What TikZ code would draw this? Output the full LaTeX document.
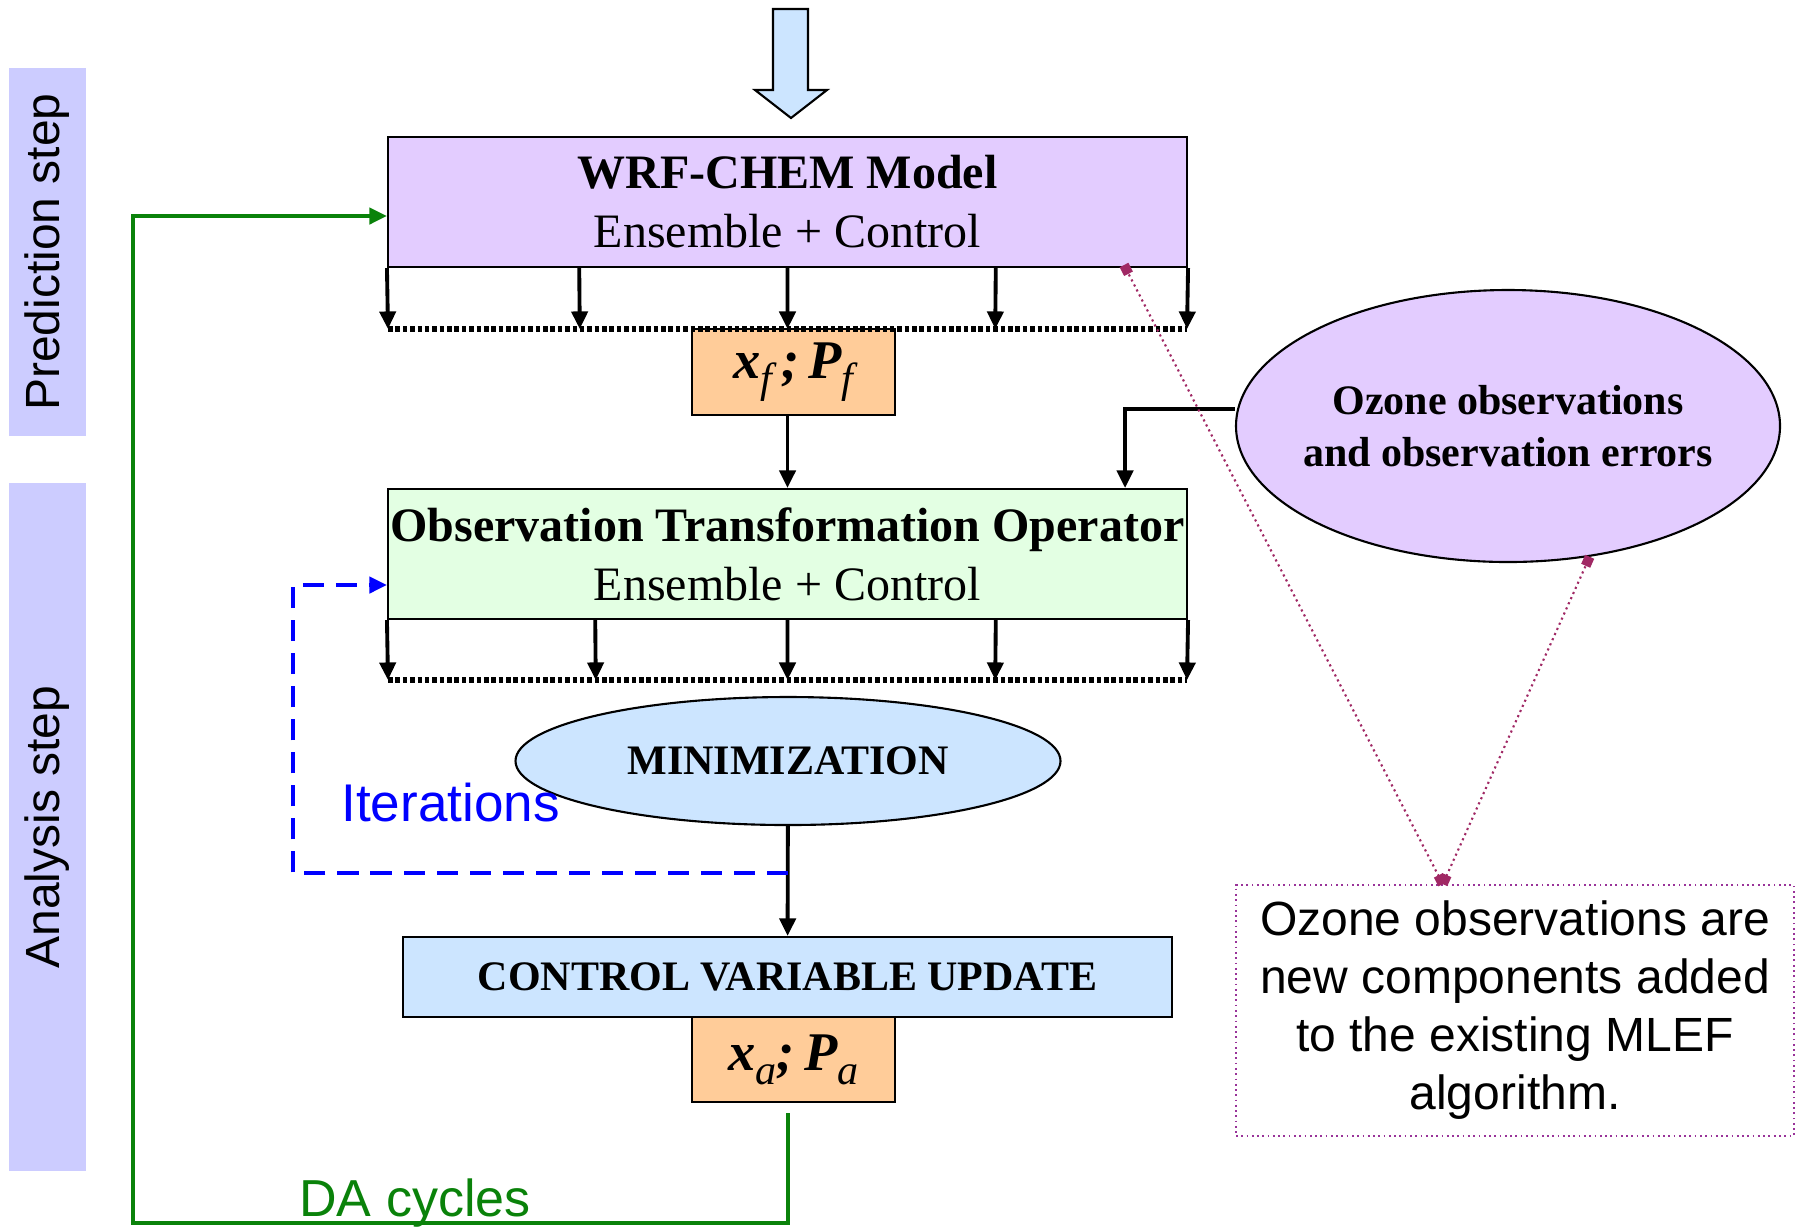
\documentclass[tikz,border=0pt]{standalone}
\usepackage{fontspec}
\setmainfont{Liberation Serif}
\setsansfont{Liberation Sans}
\usepackage{tikz}
\usetikzlibrary{arrows.meta, calc, shapes.geometric}

\definecolor{lavender}{RGB}{227,204,255}
\definecolor{mint}{RGB}{227,255,227}
\definecolor{skyblue}{RGB}{204,229,255}
\definecolor{peach}{RGB}{255,204,153}
\definecolor{bandblue}{RGB}{204,204,255}
\definecolor{cyclegreen}{RGB}{10,130,10}
\definecolor{pinline}{RGB}{160,40,100}
\definecolor{notepurple}{RGB}{153,51,153}
\newcommand{\lowsub}[1]{\raisebox{-0.55ex}{\fontsize{12}{12}\selectfont\mdseries\itshape #1}}

\begin{document}
\begin{tikzpicture}[thick, >={Triangle[length=5pt, width=4.6pt]},
        box/.style={draw, line width=0.6pt, inner sep=0pt, align=center},
        big/.style={font=\fontsize{13.66}{16.8}\selectfont},
        mid/.style={font=\fontsize{11.95}{14.8}\selectfont\bfseries},
        band/.style={fill=bandblue, inner sep=0pt, rotate=90, font=\sffamily\fontsize{13.66}{16}\selectfont},
        tick/.style={->, line width=1.1pt},
        dotline/.style={line width=1.5pt, dash pattern=on 1.3pt off 0.8pt},
        iterline/.style={->, blue, line width=1.1pt, dash pattern=on 6pt off 3.4pt},
        daline/.style={->, cyclegreen, line width=1.1pt},
        callout/.style={color=pinline, densely dotted, line width=0.6pt, {Square[length=2.8pt, width=2.8pt]}-{Square[length=2.8pt, width=2.8pt]}}]
        \useasboundingbox (0,0) rectangle (17.96,-12.26);

        % Side bands
        \node[band, minimum width=3.68cm, minimum height=0.77cm] (pred) at (0.475,-2.52) {Prediction step};
        \node[band, minimum width=6.88cm, minimum height=0.77cm] (anal) at (0.475,-8.27) {Analysis step};

        % Input arrow
        \draw[line width=0.6pt, fill=skyblue] (7.73,-0.09) -- (8.08,-0.09) -- (8.08,-0.90) -- (8.27,-0.90)
            -- (7.91,-1.18) -- (7.55,-0.90) -- (7.73,-0.90) -- cycle;

        % Nodes
        \node[box, big, fill=lavender, minimum width=7.99cm, minimum height=1.30cm] (wrf) at (7.875,-2.02)
            {\textbf{WRF-CHEM Model}\\Ensemble + Control};
        \node[box, fill=peach, minimum width=2.03cm, minimum height=0.86cm, font=\fontsize{15.5}{18}\selectfont\bfseries\itshape] (xf) at (7.935,-3.72)
            {x\lowsub{f}\,;\,P\lowsub{f}};
        \node[box, big, fill=mint, minimum width=7.99cm, minimum height=1.30cm] (oto) at (7.875,-5.54)
            {\textbf{Observation Transformation Operator}\\Ensemble + Control};
        \node[ellipse, draw, line width=0.6pt, fill=lavender, minimum width=5.44cm, minimum height=2.72cm,
            inner xsep=-0.4cm, inner ysep=0pt, mid, align=center] (ozone) at (15.08,-4.26) {Ozone observations\\and observation errors};
        \node[ellipse, draw, line width=0.6pt, fill=skyblue, minimum width=5.45cm, minimum height=1.28cm,
            inner sep=0pt, mid] (mini) at (7.88,-7.61) {MINIMIZATION};
        \node[box, mid, fill=skyblue, minimum width=7.69cm, minimum height=0.80cm] (cvu) at (7.875,-9.77)
            {CONTROL VARIABLE UPDATE};
        \node[box, fill=peach, minimum width=2.03cm, minimum height=0.85cm, font=\fontsize{15.5}{18}\selectfont\bfseries\itshape] (xa) at (7.935,-10.595)
            {x\lowsub{a};\,P\lowsub{a}};
        \node[draw=notepurple, densely dotted, line width=0.5pt, minimum width=5.58cm, minimum height=2.51cm,
            inner sep=0pt, align=center, font=\sffamily\fontsize{13.66}{16.5}\selectfont] (note) at (15.15,-10.105)
            {Ozone observations are\\new components added\\to the existing MLEF\\algorithm.};

        % Labels
        \node[text=blue, anchor=base west, inner sep=0pt, font=\sffamily\fontsize{15.1}{18}\selectfont] (iterlbl) at (3.40,-8.21) {Iterations};
        \node[text=cyclegreen, anchor=base west, inner sep=0pt, font=\sffamily\fontsize{14.8}{18}\selectfont] (dalbl) at (2.98,-12.16) {DA cycles};

        % Ensemble outputs
        \coordinate (wrfL) at (3.88,-3.29);
        \coordinate (wrfR) at (11.87,-3.29);
        \coordinate (otoL) at (3.88,-6.80);
        \coordinate (otoR) at (11.87,-6.80);
        \foreach \f in {0,0.24,0.5,0.76,1}
            \draw[tick] ($(wrf.south west)!\f!(wrf.south east)$) -- ($(wrfL)!\f!(wrfR)$);
        \foreach \f in {0,0.26,0.5,0.76,1}
            \draw[tick] ($(oto.south west)!\f!(oto.south east)$) -- ($(otoL)!\f!(otoR)$);
        \draw[dotline] (wrfL) -- (wrfR);
        \draw[dotline] (otoL) -- (otoR);

        % Directed edges
        \draw[tick] (xf.south -| oto) -- (oto);
        \draw[tick] (mini) -- (cvu);
        \draw[tick] ([yshift=1.7mm]ozone.west) -| ($(oto.north east)+(-0.63,0)$);

        % Loops
        \coordinate (iter) at (7.88,-8.73);
        \draw[iterline] (iter) -- ++(-4.95,0) |- ([yshift=-3.1mm]oto.west);
        \coordinate (da) at (7.88,-11.13);
        \draw[daline] (da) -- ++(0,-1.10) -| (1.33,-2.16) -- ([yshift=-1.4mm]wrf.west);

        % Callout
        \coordinate (wrfpin) at (11.24,-2.65);
        \coordinate (notepin) at ($(note.north west)!0.371!(note.north east)$);
        \draw[callout] (notepin) -- (wrfpin);
        \draw[callout] (notepin) -- (ozone.-58);
    \end{tikzpicture}
\end{document}
